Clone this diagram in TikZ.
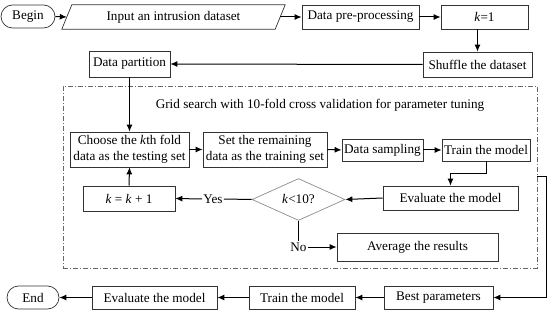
\documentclass[tikz,border=0pt]{standalone}
\usepackage{fontspec}
\setmainfont{Liberation Serif}
\usetikzlibrary{shapes.geometric,shapes.misc,arrows.meta}
\begin{document}
\begin{tikzpicture}[x=1pt,y=-1pt,
  every node/.style={font=\fontsize{13.2}{16}\selectfont,inner sep=0pt,align=center},
  box/.style={draw=black!80,line width=0.7pt,minimum height=24pt},
  term/.style={box,rounded rectangle},
  decide/.style={draw=black!45,line width=0.7pt,diamond,minimum width=93pt,minimum height=35pt},
  frame/.style={draw=black!60,line width=0.7pt,dash pattern=on 5pt off 2pt on 1pt off 2pt},
  arr/.style={-{Latex[length=7pt,width=6pt]},line width=1pt},
  line/.style={line width=1pt}]
\useasboundingbox (0,0) rectangle (550,313);
\node[term,minimum width=54pt,minimum height=23pt] (begin) at (28,16.5) {Begin};
\node[minimum width=223pt,minimum height=24pt] (input) at (173.5,17) {Input an intrusion dataset};
\draw[draw=black!80,line width=0.7pt] (input.south west) -- ([xshift=10pt]input.north west)
  -- (input.north east) -- ([xshift=-10pt]input.south east) -- cycle;
\node[box,minimum width=117pt] (pre) at (360.5,17) {Data pre-processing};
\node[box,minimum width=87pt] (kone) at (484.5,17) {\textit{k}=1};
\node[box,minimum width=109pt,minimum height=25pt] (shuffle) at (477.5,64.5) {Shuffle the dataset};
\node[box,minimum width=81pt,minimum height=26pt] (part) at (129.5,64) {Data partition};
\node[frame,minimum width=474pt,minimum height=182pt] (grid) at (300,177) {};
\node (title) at (320,105) {Grid search with 10-fold cross validation for parameter tuning};
\node[box,minimum width=119pt,minimum height=35pt] (choose) at (129.5,149.5) {Choose the \textit{k}th fold\\data as the testing set};
\node[box,minimum width=124pt,minimum height=35pt] (remain) at (265,149.5) {Set the remaining\\data as the training set};
\node[box,minimum width=81pt,minimum height=22pt] (samp) at (382.5,150) {Data sampling};
\node[box,minimum width=88pt,minimum height=22pt] (train) at (486,150) {Train the model};
\node[box,minimum width=135pt] (evalin) at (450.5,198) {Evaluate the model};
\node[decide] (dec) at (298.5,199.5) {\textit{k}<10?};
\node[box,minimum width=92pt,minimum height=25pt] (kinc) at (129,198.5) {\textit{k} = \textit{k} + 1};
\node[fill=white,inner sep=1pt] (yes) at (213,199) {Yes};
\node[fill=white,inner sep=1pt] (no) at (298.5,247) {No};
\node[box,minimum width=161pt,minimum height=28pt] (avg) at (417.5,247) {Average the results};
\node[term,minimum width=52pt,minimum height=23pt] (end) at (33,297.5) {End};
\node[box,minimum width=125pt,minimum height=23pt] (evalout) at (154.5,297.5) {Evaluate the model};
\node[box,minimum width=106pt,minimum height=23pt] (trainout) at (302,297.5) {Train the model};
\node[box,minimum width=109pt,minimum height=23pt] (best) at (438.5,297.5) {Best parameters};
\draw[arr] (begin.east) -- ([xshift=5pt]input.west);
\draw[arr] ([xshift=-5pt]input.east) -- (pre.west);
\draw[arr] (pre.east) -- (kone.west);
\draw[arr] (shuffle.north |- kone.south) -- (shuffle.north);
\draw[arr] (shuffle.west) -- (part.east);
\draw[arr] (part.south) -- (choose.north);
\draw[arr] (choose.east) -- (remain.west);
\draw[arr] (remain.east) -- (samp.west);
\draw[arr] (samp.east) -- (train.west);
\draw[arr] (train.south) -- ++(0,12) -| (evalin.north);
\draw[arr] (evalin.west) -- (dec.east);
\draw[line] (dec.west) -- (yes.east);
\draw[arr] (yes.west) -- (kinc.east);
\draw[arr] (kinc.north) -- (choose.south);
\draw[line] (dec.south) -- (no.north);
\draw[arr] (no.east) -- (avg.west);
\draw[arr] (grid.east) -- ++(9,0) |- (best.east);
\draw[arr] (best.west) -- (trainout.east);
\draw[arr] (trainout.west) -- (evalout.east);
\draw[arr] (evalout.west) -- (end.east);
\end{tikzpicture}
\end{document}
